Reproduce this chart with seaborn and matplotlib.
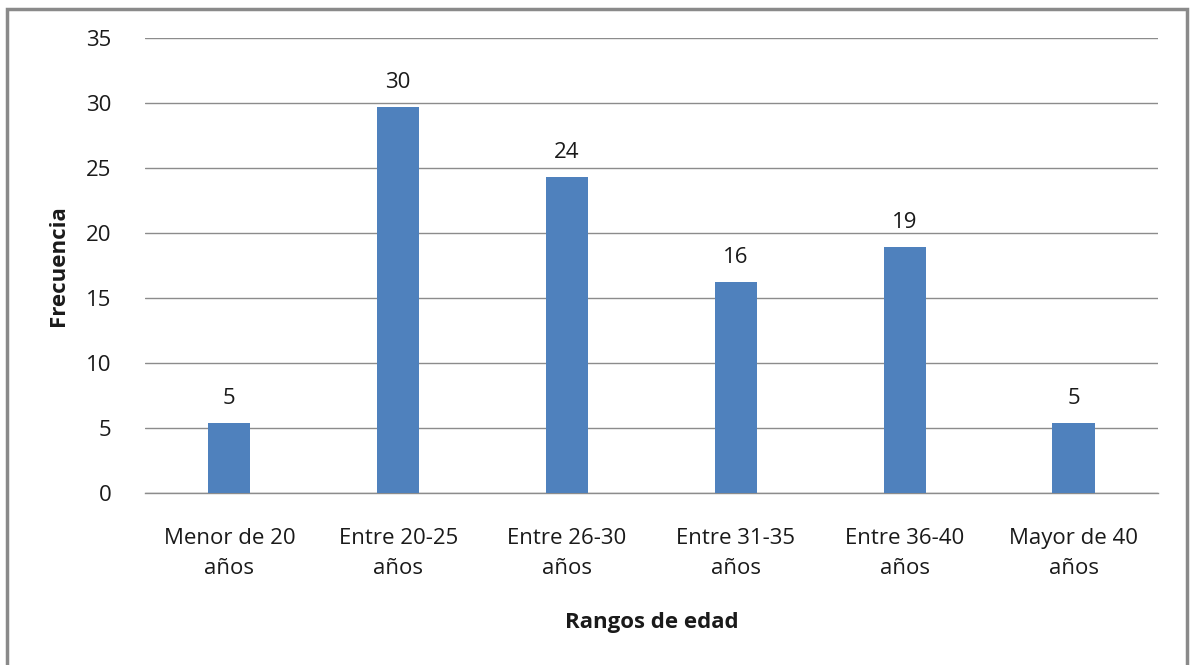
import matplotlib
matplotlib.use("Agg")
import matplotlib.pyplot as plt
import seaborn as sns
import pandas as pd
from matplotlib.patches import Rectangle

categorias = ["Menor de 20\naños", "Entre 20-25\naños", "Entre 26-30\naños",
              "Entre 31-35\naños", "Entre 36-40\naños", "Mayor de 40\naños"]
frecuencia = [5.4, 29.7, 24.3, 16.2, 18.9, 5.4]
y_ticks = [0, 5, 10, 15, 20, 25, 30, 35]

sns.set_theme(style="white")
plt.rcParams["font.family"] = ["Open Sans", "DejaVu Sans"]

df = pd.DataFrame({"Rango": categorias, "Frecuencia": frecuencia})

fig = plt.figure(figsize=(11.92, 6.65), dpi=100)
ax = fig.add_axes([0.1216, 0.2586, 0.8499, 0.6843])

sns.barplot(data=df, x="Rango", y="Frecuencia", color="#4F81BD",
            saturation=1, width=0.25, linewidth=0, ax=ax, zorder=3)

ax.set_ylim(0, 35)
ax.set_yticks(y_ticks)
ax.set_xlim(-0.5, len(categorias) - 0.5)
ax.yaxis.grid(True, color="#8c8c8c", linewidth=1.0, zorder=0)
ax.xaxis.grid(False)
for s in ["top", "right", "left"]:
    ax.spines[s].set_visible(False)
ax.spines["bottom"].set_color("#8c8c8c")
ax.spines["bottom"].set_linewidth(1.0)
ax.tick_params(axis="y", length=0, pad=24, labelsize=16, colors="#1a1a1a")
ax.tick_params(axis="x", length=0, pad=25, labelsize=16, colors="#1a1a1a")
for lbl in ax.get_xticklabels():
    lbl.set_linespacing(1.55)

for i, v in enumerate(frecuencia):
    ax.text(i, v + 1.1, f"{v:.0f}", ha="center", va="bottom",
            fontsize=16, color="#1a1a1a")

ax.set_ylabel("Frecuencia", fontsize=16, fontweight="bold", labelpad=12,
              color="#1a1a1a")
ax.set_xlabel("Rangos de edad", fontsize=16, fontweight="bold", labelpad=24,
              color="#1a1a1a")

fig.patches.append(Rectangle((7 / 1192, -0.05), 1180 / 1192, 1.05 - 9 / 665,
                             transform=fig.transFigure, fill=False,
                             edgecolor="#8a8a8a", linewidth=2.5))

fig.savefig("out.png", dpi=100)
